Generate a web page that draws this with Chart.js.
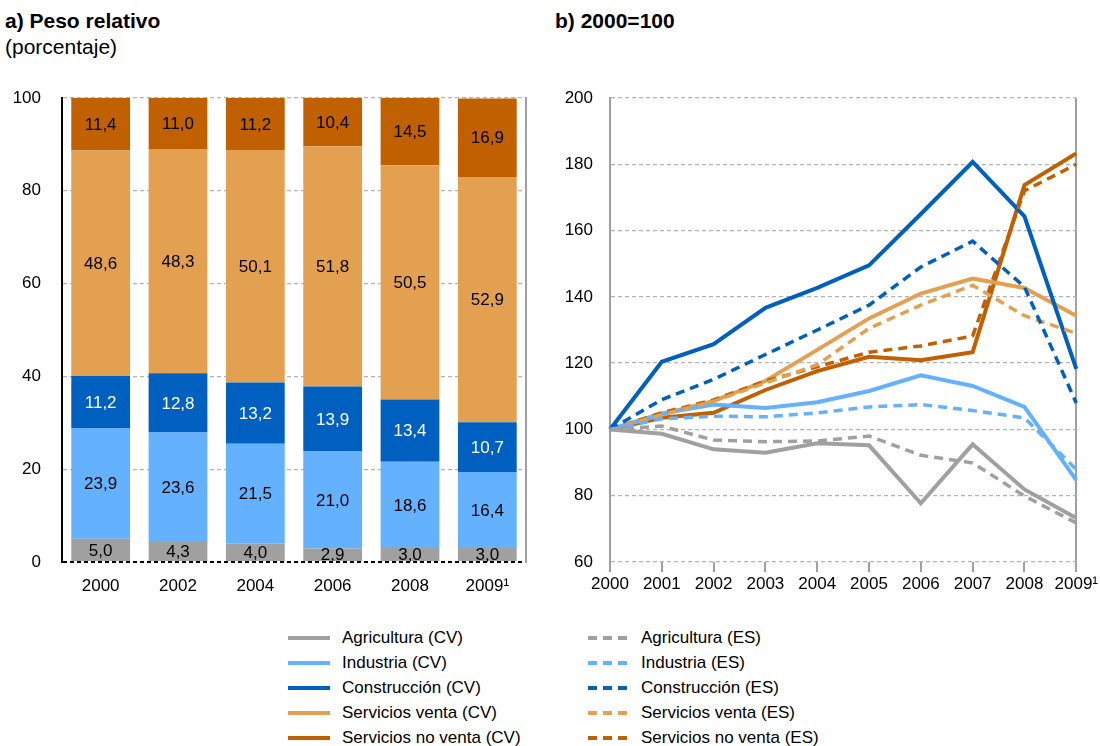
<!DOCTYPE html>
<html>
<head>
<meta charset="utf-8">
<script src="https://cdn.jsdelivr.net/npm/chart.js@4/dist/chart.umd.min.js"></script>
<style>
  body { margin: 0; background: #fff; font-family: "Liberation Sans", Arial, sans-serif; }
  #page { position: relative; width: 1100px; height: 746px; overflow: hidden; }
  canvas { position: absolute; top: 0; }
  .title { position: absolute; font-size: 21px; color: #000; white-space: nowrap; }
  .legRow { position: absolute; font-size: 17px; color: #000; line-height: 20px; white-space: nowrap; }
  .swatch { position: absolute; top: 8px; width: 42px; height: 0; }
</style>
</head>
<body>
<div id="page">
  <div class="title" style="left:5px; top:9px; font-weight:bold;">a) Peso relativo</div>
  <div class="title" style="left:5px; top:35px;">(porcentaje)</div>
  <div class="title" style="left:555px; top:9px; font-weight:bold;">b) 2000=100</div>
  <canvas id="barChart" width="545" height="620" style="left:0px;"></canvas>
  <canvas id="lineChart" width="555" height="620" style="left:545px;"></canvas>
  <div id="legend"></div>
</div>
<script>
// a) peso relativo (%)
const barYears = ['2000', '2002', '2004', '2006', '2008', '2009¹'];
const agriShare = [5.0, 4.3, 4.0, 2.9, 3.0, 3.0];
const indShare = [23.9, 23.6, 21.5, 21.0, 18.6, 16.4];
const consShare = [11.2, 12.8, 13.2, 13.9, 13.4, 10.7];
const servShare = [48.6, 48.3, 50.1, 51.8, 50.5, 52.9];
const noServShare = [11.4, 11.0, 11.2, 10.4, 14.5, 16.9];

// b) indices 2000=100
const lineYears = ['2000', '2001', '2002', '2003', '2004', '2005', '2006', '2007', '2008', '2009¹'];
const agriCV = [100, 98.7, 94.0, 93.0, 95.8, 95.2, 77.7, 95.5, 81.9, 73.3];
const agriES = [100, 101.0, 96.8, 96.3, 96.5, 98.0, 92.2, 89.9, 79.9, 71.8];
const indCV = [100, 104.8, 107.5, 106.5, 108.2, 111.6, 116.3, 113.1, 106.8, 84.7];
const indES = [100, 103.2, 104.0, 103.8, 105.0, 106.8, 107.5, 105.7, 103.5, 87.9];
const consCV = [100, 120.4, 125.7, 136.7, 142.7, 149.5, 165.0, 180.7, 164.3, 118.3];
const consES = [100, 109.0, 115.1, 122.6, 130.0, 137.5, 149.0, 156.8, 143.0, 108.0];
const servCV = [100, 104.5, 108.6, 114.6, 124.0, 133.5, 141.0, 145.5, 142.7, 134.3];
const servES = [100, 104.5, 108.5, 114.0, 119.5, 130.5, 137.5, 143.5, 134.3, 129.0];
const noServCV = [100, 103.5, 105.0, 111.9, 117.6, 121.9, 120.9, 123.3, 173.7, 183.3];
const noServES = [100, 105.0, 108.9, 114.6, 118.9, 123.3, 125.2, 128.2, 172.0, 180.0];

const sectors = ['Agricultura', 'Industria', 'Construcción', 'Servicios venta', 'Servicios no venta'];
const colors = ['#A0A0A0', '#63B1FF', '#0060C0', '#E3A050', '#C06000'];

Chart.defaults.font.family = '"Liberation Sans", Arial, sans-serif';
Chart.defaults.font.size = 17;
Chart.defaults.color = '#000';

const fmt = v => v.toFixed(1).replace('.', ',');

const barLabels = {
    id: 'barLabels',
    afterDatasetsDraw(chart) {
        const ctx = chart.ctx;
        ctx.save();
        ctx.font = '17px "Liberation Sans", Arial, sans-serif';
        ctx.textAlign = 'center';
        ctx.textBaseline = 'middle';
        chart.data.datasets.forEach((ds, i) => {
            ctx.fillStyle = i === 2 ? '#fff' : '#000';
            chart.getDatasetMeta(i).data.forEach((bar, j) => {
                const p = bar.getProps(['x', 'y', 'base'], true);
                ctx.fillText(fmt(ds.data[j]), p.x, (p.y + p.base) / 2 + 1);
            });
        });
        ctx.restore();
    }
};

const shares = [agriShare, indShare, consShare, servShare, noServShare];

new Chart(document.getElementById('barChart'), {
    type: 'bar',
    data: {
        labels: barYears,
        datasets: shares.map((d, i) => ({
            label: sectors[i],
            data: d,
            backgroundColor: colors[i],
            borderWidth: 0,
            barPercentage: 0.76,
            categoryPercentage: 1
        }))
    },
    options: {
        responsive: false,
        animation: false,
        layout: { padding: { top: 98, right: 19, left: 0, bottom: 0 } },
        plugins: { legend: { display: false }, tooltip: { enabled: false } },
        scales: {
            x: {
                stacked: true,
                grid: { display: false, drawTicks: false },
                border: { display: false },
                ticks: { padding: 14 },
                afterFit: s => { s.height = 58; }
            },
            y: {
                stacked: true,
                min: 0,
                max: 100,
                ticks: { stepSize: 20, padding: 21 },
                grid: {
                    drawTicks: false,
                    lineWidth: c => c.tick && c.tick.value === 0 ? 2 : 1.3,
                    color: c => c.tick && c.tick.value === 0 ? '#000' : '#B4B4B4'
                },
                border: { display: true, color: '#000', width: 2, dash: [4, 3] },
                afterFit: s => { s.width = 62; }
            },
            yRight: {
                position: 'right',
                min: 0,
                max: 100,
                ticks: { display: false },
                grid: { display: false },
                border: { display: true, color: '#A0A0A0', width: 2 },
                afterFit: s => { s.width = 0; }
            }
        }
    },
    plugins: [barLabels]
});

const lineSeries = [agriCV, indCV, consCV, servCV, noServCV];
const lineSeriesES = [agriES, indES, consES, servES, noServES];
const lineSets = [];
lineSeriesES.forEach((d, i) => lineSets.push({
    label: sectors[i] + ' (ES)',
    data: d,
    borderColor: colors[i],
    borderWidth: 3.5,
    borderDash: [9, 6],
    pointRadius: 0,
    tension: 0,
    fill: false
}));
lineSeries.forEach((d, i) => lineSets.push({
    label: sectors[i] + ' (CV)',
    data: d,
    borderColor: colors[i],
    borderWidth: 4,
    pointRadius: 0,
    tension: 0,
    fill: false
}));

new Chart(document.getElementById('lineChart'), {
    type: 'line',
    data: { labels: lineYears, datasets: lineSets },
    options: {
        responsive: false,
        animation: false,
        layout: { padding: { top: 98, right: 23, left: 0, bottom: 0 } },
        plugins: { legend: { display: false }, tooltip: { enabled: false } },
        scales: {
            x: {
                grid: {
                    drawOnChartArea: true,
                    tickLength: 10,
                    tickColor: '#A0A0A0',
                    lineWidth: 2,
                    color: c => c.index === lineYears.length - 1 ? '#A0A0A0' : 'rgba(0,0,0,0)'
                },
                border: { display: false, dash: [] },
                ticks: { padding: 2, maxRotation: 0, autoSkip: false },
                afterFit: s => { s.height = 58; }
            },
            y: {
                min: 60,
                max: 200,
                ticks: { stepSize: 20, padding: 17 },
                grid: { drawTicks: false, color: '#B4B4B4', lineWidth: 1.3 },
                border: { display: true, color: '#A0A0A0', width: 2, dash: [4, 3] },
                afterFit: s => { s.width = 65; }
            }
        }
    }
});

// leyenda en dos columnas
const legend = document.getElementById('legend');
sectors.forEach((name, i) => {
    [['CV', 288, 'solid'], ['ES', 588, 'dashed']].forEach(([tag, x, kind]) => {
        const row = document.createElement('div');
        row.className = 'legRow';
        row.style.left = x + 'px';
        row.style.top = (628 + i * 25) + 'px';
        const sw = document.createElement('div');
        sw.className = 'swatch';
        sw.style.left = '0px';
        if (kind === 'solid') {
            sw.style.borderTop = '4px solid ' + colors[i];
        } else {
            sw.style.height = '4px';
            sw.style.top = '8px';
            sw.style.background = 'repeating-linear-gradient(90deg,' + colors[i] + ' 0 9px, transparent 9px 15px)';
        }
        const tx = document.createElement('span');
        tx.style.position = 'relative';
        tx.style.left = (kind === 'solid' ? 54 : 53) + 'px';
        tx.textContent = name + ' (' + tag + ')';
        row.appendChild(sw);
        row.appendChild(tx);
        legend.appendChild(row);
    });
});
</script>
</body>
</html>
